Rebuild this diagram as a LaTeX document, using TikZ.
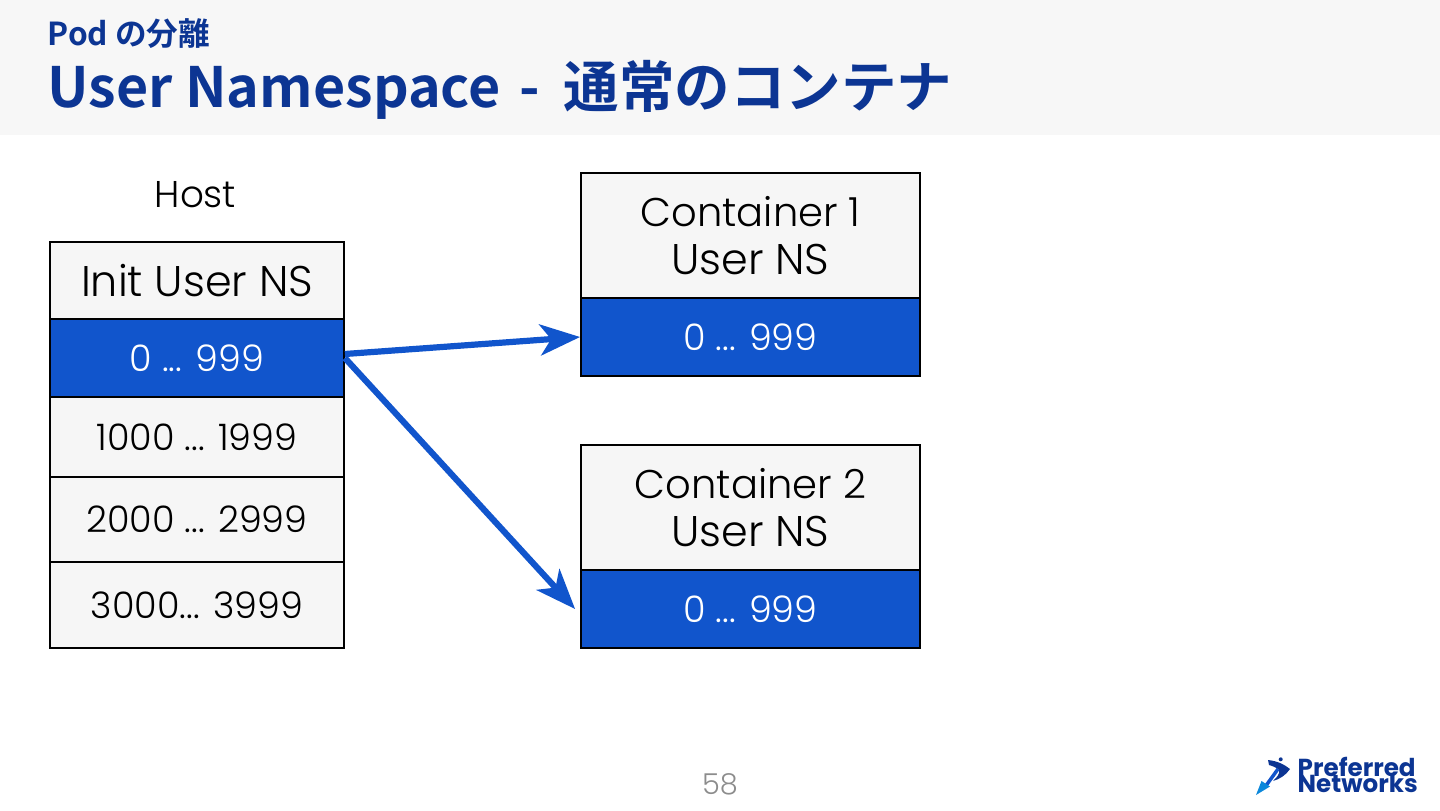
\documentclass[tikz,border=0pt]{standalone}
\usepackage{fontspec}
\usepackage{xcolor}
\usetikzlibrary{arrows.meta, positioning, calc}
\newfontfamily\labelfont{Poppins Light}
\newfontfamily\logofont{Poppins}
\newfontfamily\titlefont{Noto Sans CJK JP}[BoldFont={* Bold}]
\definecolor{headbg}{HTML}{F7F7F7}
\definecolor{cellbg}{HTML}{F6F6F6}
\definecolor{nsblue}{HTML}{1155CC}
\definecolor{titleblue}{HTML}{0C3593}
\definecolor{pagegray}{HTML}{8C8C8C}
\newcommand{\contname}[1]{{\fontsize{11.4pt}{13.6pt}\selectfont #1}}
\tikzset{
	cell/.style={draw=black, line width=0.018cm, fill=cellbg, inner sep=0pt, align=center, font=\labelfont\fontsize{12.2pt}{13.6pt}\selectfont},
	hostcell/.style={cell, minimum width=2.94cm},
	contcell/.style={cell, minimum width=3.39cm},
	numcell/.style={font=\labelfont\fontsize{10.4pt}{13pt}\selectfont},
	idblue/.style={numcell, fill=nsblue, text=white},
	maparrow/.style={-{Stealth[length=0.4cm, width=0.31cm, inset=0.11cm]}, line width=0.062cm, nsblue},
	logotype/.style={anchor=base west, inner sep=0pt, titleblue, font=\logofont\bfseries\fontsize{7pt}{8pt}\selectfont}
}
\begin{document}
\begin{tikzpicture}
	\useasboundingbox (0,0) rectangle (14.4,8.1);
	% Header band
	\fill[headbg] (0,8.1) rectangle (14.4,6.75);
	\node[anchor=base west, inner sep=0pt, titleblue, font=\titlefont\bfseries\fontsize{9pt}{11pt}\selectfont] (subtitle) at (0.47,7.65) {Pod の分離};
	\node[anchor=base west, inner sep=0pt, titleblue, font=\titlefont\bfseries\fontsize{15.8pt}{18pt}\selectfont] (title) at (0.47,7.03) {User Namespace\hspace{0.06cm} -\hspace{0.11cm} 通常のコンテナ};

	% Host column
	\node[font=\labelfont\fontsize{10.6pt}{12pt}\selectfont, inner sep=0pt] (hostlabel) at (1.955,6.15) {Host};
	\node[hostcell, minimum height=0.77cm] (hostname) at (1.97,5.295) {Init User NS};
	\node[hostcell, idblue, minimum height=0.78cm] (hostzero) at (1.97,4.52) {0 ... 999};
	\node[hostcell, numcell, minimum height=0.80cm] (hostone) at (1.97,3.73) {1000 ... 1999};
	\node[hostcell, numcell, minimum height=0.85cm] (hosttwo) at (1.97,2.905) {2000 ... 2999};
	\node[hostcell, numcell, minimum height=0.86cm] (hostthree) at (1.97,2.05) {3000... 3999};

	% Container 1
	\node[contcell, minimum height=1.25cm] (oneName) at (7.505,5.745) {\contname{Container 1}\\User NS};
	\node[contcell, idblue, minimum height=0.78cm] (oneZero) at (7.505,4.73) {0 ... 999};

	% Container 2
	\node[contcell, minimum height=1.25cm] (twoName) at (7.505,3.025) {\contname{Container 2}\\User NS};
	\node[contcell, idblue, minimum height=0.78cm] (twoZero) at (7.505,2.01) {0 ... 999};

	% Mapping arrows
	\draw[maparrow] ([yshift=0.04cm]hostzero.east) -- (oneZero.west);
	\draw[maparrow] (hostzero.east) -- ([xshift=-0.05cm]twoZero.west);

	% Page number
	\node[pagegray, inner sep=0pt, font=\labelfont\fontsize{8.2pt}{10pt}\selectfont] (pagenum) at (7.2,0.255) {58};

	% Logo
	\fill[titleblue] (12.68,0.5) .. controls (12.78,0.49) and (12.85,0.45) .. (12.9,0.41) .. controls (12.86,0.35) and (12.8,0.31) .. (12.73,0.29) .. controls (12.77,0.33) and (12.8,0.36) .. (12.79,0.4) .. controls (12.76,0.43) and (12.72,0.44) .. (12.69,0.45) -- cycle;
	\fill[titleblue] (12.807,0.507) circle (0.02);
	\draw[line width=0.035cm, nsblue] (12.78,0.41) -- (12.65,0.23);
	\fill[nsblue!70!cyan] (12.56,0.15) -- (12.615,0.29) -- (12.7,0.235) -- cycle;
	\node[logotype] (logotop) at (12.97,0.34) {Preferred};
	\node[logotype] (logobottom) at (12.97,0.18) {Networks};
\end{tikzpicture}
\end{document}
